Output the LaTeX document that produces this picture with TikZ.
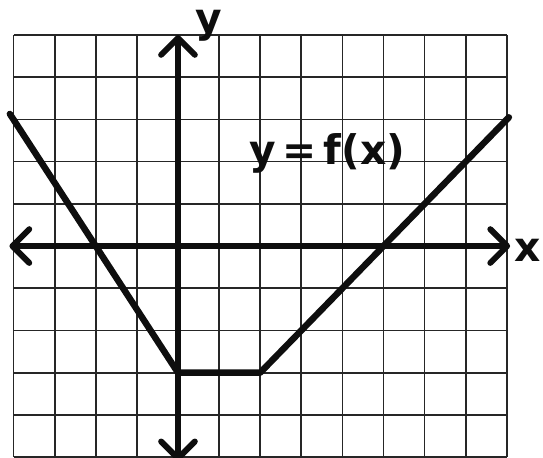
\documentclass[tikz,border=0pt]{standalone}
\usepackage{xcolor}
\usepackage{fontspec}
\setsansfont{DejaVu Sans}
\usepackage{tikz}
\usetikzlibrary{arrows.meta,positioning}
\definecolor{ink}{HTML}{0E0E0E}
\definecolor{gridline}{HTML}{262626}

\tikzset{
  gridlines/.style={draw=gridline, line width=1.2pt},
  barb/.tip={Straight Barb[length=12pt, width=24pt, line width=4.2pt, round]},
  axisline/.style={draw=ink, line width=4.2pt, barb-barb},
  graphline/.style={draw=ink, line width=4.6pt, line join=round, line cap=round},
  handlabel/.style={text=ink, font=\sffamily\bfseries\fontsize{29}{34}\selectfont, inner sep=0pt}
}

\begin{document}
\begin{tikzpicture}[x=1.0275cm, y=1.055cm]
      \useasboundingbox (-4.33,-5.02) rectangle (8.88,5.83);
      \draw[gridlines, step=1] (-4,-5) grid (8,5);
      % axes
      \coordinate (xleft) at (-4.1,0);
      \coordinate (xright) at (8.08,0);
      \coordinate (ybottom) at (0,-5.1);
      \coordinate (ytop) at (0,5.0);
      \draw[axisline] (xleft) -- (xright);
      \draw[axisline] (ybottom) -- (ytop);
      \node[handlabel] (xlabel) at (8.5,-0.1) {x};
      \node[handlabel] (ylabel) at (0.75,5.22) {y};
      % the graph of f
      \coordinate (fstart) at (-4.09,3.13);
      \coordinate (fvertex) at (0,-3);
      \coordinate (fflat) at (2,-3);
      \coordinate (fend) at (8.05,3.05);
      \draw[graphline] (fstart) -- (fvertex) -- (fflat) -- (fend);
      \node[handlabel] (flabel) at (3.63,2.2) {y\,=\,f(x)};
    \end{tikzpicture}
\end{document}
